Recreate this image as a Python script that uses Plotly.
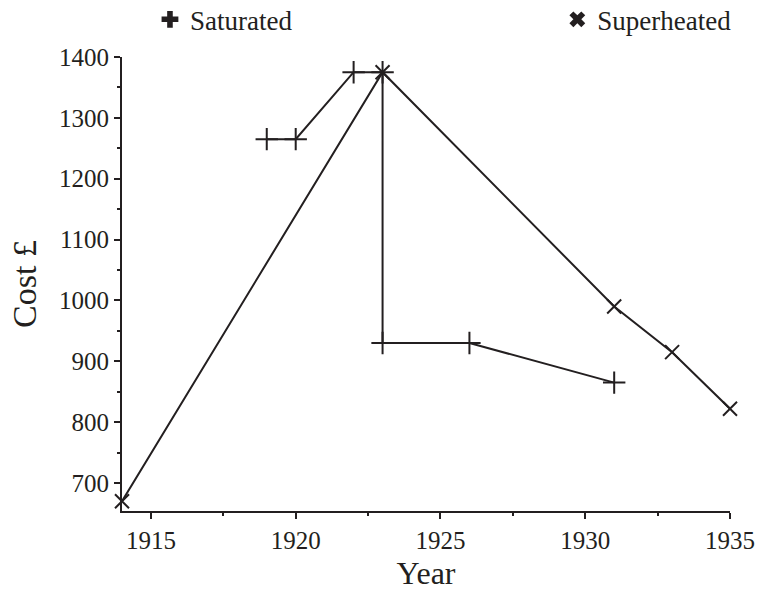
import plotly.graph_objects as go

# Data
sat_year = [1919, 1920, 1922, 1923, 1923, 1926, 1931]
sat_cost = [1265, 1265, 1375, 1375, 930, 930, 865]
sup_year = [1914, 1923, 1931, 1933, 1935]
sup_cost = [670, 1375, 990, 915, 822]

x_ticks = [1915, 1920, 1925, 1930, 1935]
y_ticks = [700, 800, 900, 1000, 1100, 1200, 1300, 1400]

INK = "#231f20"
FONT = "Liberation Serif, Times New Roman, serif"

fig = go.Figure()

fig.add_trace(go.Scatter(
    x=sat_year, y=sat_cost, mode="lines+markers", showlegend=False, cliponaxis=False,
    line=dict(color=INK, width=2),
    marker=dict(symbol="cross-thin", size=16, color=INK, line=dict(color=INK, width=2)),
))
fig.add_trace(go.Scatter(
    x=sup_year, y=sup_cost, mode="lines+markers", showlegend=False, cliponaxis=False,
    line=dict(color=INK, width=2),
    marker=dict(symbol="x-thin", size=14, color=INK, line=dict(color=INK, width=2)),
))
# legend entries (filled bold symbols as in the reference)
fig.add_trace(go.Scatter(
    x=[None], y=[None], mode="markers", name="Saturated", legend="legend",
    marker=dict(symbol="cross", size=14, color=INK),
))
fig.add_trace(go.Scatter(
    x=[None], y=[None], mode="markers", name="Superheated", legend="legend2",
    marker=dict(symbol="x", size=14, color=INK),
))

axis_common = dict(
    showline=True, linewidth=2, linecolor=INK,
    ticks="outside", ticklen=6, tickwidth=2, tickcolor=INK,
    showgrid=False, zeroline=False,
    tickfont=dict(family=FONT, size=25, color=INK),
)

fig.update_xaxes(
    range=[1914, 1935], tickvals=x_ticks,
    minor=dict(dtick=2.5, tick0=1915, ticklen=3, tickwidth=2, tickcolor=INK, ticks="outside"),
    ticklabelstandoff=0,
    title_text="Year", title_standoff=9,
    title_font=dict(family=FONT, size=32, color=INK),
    **axis_common,
)
fig.update_yaxes(
    range=[654, 1400], tickvals=y_ticks,
    minor=dict(dtick=50, tick0=700, ticklen=3, tickwidth=2, tickcolor=INK, ticks="outside"),
    title_text="Cost £", title_standoff=12,
    title_font=dict(family=FONT, size=34, color=INK),
    **axis_common,
)

legend_common = dict(
    orientation="h", xref="paper", yref="paper", yanchor="middle",
    font=dict(family=FONT, size=27, color=INK),
    bgcolor="rgba(0,0,0,0)", itemwidth=30,
)

fig.update_layout(
    width=759, height=591,
    margin=dict(l=122, r=29, t=57, b=80, autoexpand=False),
    plot_bgcolor="white", paper_bgcolor="white",
    font=dict(family=FONT, color=INK),
    legend=dict(x=0.046, y=1.082, **legend_common),
    legend2=dict(x=0.716, y=1.082, **legend_common),
)

# remove the browser's default 8px page margin so the figure fills the window exactly
fig.write_html(
    "out.html",
    config={"displayModeBar": False},
    post_script="document.body.style.margin='0';document.documentElement.style.overflow='hidden';",
)
